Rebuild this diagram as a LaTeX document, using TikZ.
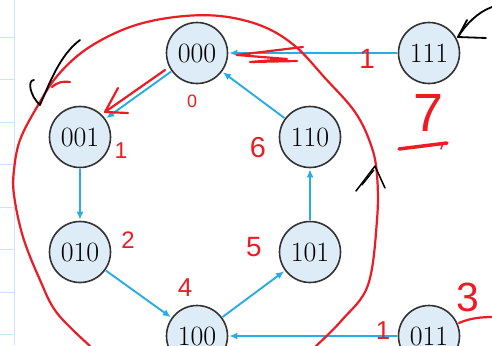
\documentclass[tikz,border=0pt]{standalone}
\usepackage{fontspec}
\newfontfamily\handfont{Liberation Sans}
\usetikzlibrary{arrows.meta}
\definecolor{nodefill}{RGB}{222,236,247}
\definecolor{nodedraw}{RGB}{50,50,50}
\definecolor{arrowblue}{RGB}{41,172,228}
\definecolor{penred}{RGB}{236,28,36}
\definecolor{gridblue}{RGB}{205,228,246}
\tikzset{
  state/.style={circle, minimum size=61bp, inner sep=0pt, fill=nodefill, draw=nodedraw, line width=1.6bp, font=\fontsize{28}{28}\selectfont},
  barrow/.style={draw=arrowblue, line width=1.9bp, -{Latex[length=8bp,width=7bp]}, shorten >=1bp, shorten <=0.5bp},
  redpen/.style={draw=penred, line width=2.2bp, line cap=round, line join=round},
  blackpen/.style={draw=black, line width=1.8bp, line cap=round, line join=round},
  gridline/.style={draw=gridblue, line width=1bp},
  reddigit/.style={text=penred, inner sep=0pt, font=\handfont}
}
\begin{document}
\begin{tikzpicture}[x=1bp, y=-1bp]
\useasboundingbox (0,0) rectangle (492,345);
\clip (0,0) rectangle (492,345);
\fill[white] (0,0) rectangle (492,345);
% notebook grid at left
\draw[gridline] (14,0) -- (14,345);
\foreach \yy in {37,79,122,164,207,249,292,334} {\draw[gridline] (0,\yy) -- (14,\yy);}
% states
\node[state] (n000) at (197,53) {000};
\node[state] (n111) at (429,53) {111};
\node[state] (n001) at (80,137) {001};
\node[state] (n110) at (310,137) {110};
\node[state] (n010) at (80,252) {010};
\node[state] (n101) at (310,252) {101};
\node[state] (n100) at (197,336) {100};
\node[state] (n011) at (429,336) {011};
% blue transitions
\draw[barrow] (n000) -- (n001);
\draw[barrow] (n001) -- (n010);
\draw[barrow] (n010) -- (n100);
\draw[barrow] (n100) -- (n101);
\draw[barrow] (n101) -- (n110);
\draw[barrow] (n110) -- (n000);
\draw[barrow] (n111) -- (n000);
\draw[barrow] (n011) -- (n100);
% red hand-drawn loop
\draw[redpen] plot[smooth, tension=0.6] coordinates {(90,346) (57,313) (40,280) (23,237) (14,195) (14,170) (20,140) (37,107) (58,75) (88,48) (130,27) (175,17) (220,16) (262,26) (295,46) (325,78) (355,112) (371,145) (377,175) (377,220) (368,285) (342,320) (316,346)};
\draw[redpen] (52,87) .. controls (58,82) and (63,81) .. (70,82);
% red arrow 000 -> 001
\draw[redpen] (165,70) -- (105,112);
\draw[redpen] (118,88) -- (105,112) -- (128,113);
% red arrow on 111 -> 000
\draw[redpen] (303,47) -- (237,55) -- (287,59) -- (250,62) -- (297,61);
% red numbers
\node[reddigit, font=\handfont\fontsize{18}{18}\selectfont] (d0) at (192,101) {0};
\node[reddigit, font=\handfont\fontsize{23}{23}\selectfont] (d1) at (121,151) {1};
\node[reddigit, font=\handfont\fontsize{24}{24}\selectfont] (d2) at (128,240) {2};
\node[reddigit, font=\handfont\fontsize{26}{26}\selectfont] (d4) at (185,288) {4};
\node[reddigit, font=\handfont\fontsize{28}{28}\selectfont] (d5) at (254,247) {5};
\node[reddigit, font=\handfont\fontsize{29}{29}\selectfont] (d6) at (258,148) {6};
\node[reddigit, font=\handfont\fontsize{54}{54}\selectfont] (d7) at (428,113) {7};
\node[reddigit, font=\handfont\fontsize{41}{41}\selectfont] (d3) at (468,297) {3};
\node[reddigit, font=\handfont\fontsize{28}{28}\selectfont] (e1) at (367,59) {1};
\node[reddigit, font=\handfont\fontsize{26}{26}\selectfont] (e2) at (383,331) {1};
% red dash and stroke at 011
\draw[redpen, line width=3.5bp] (399,149) -- (447,143);
\draw[redpen, line width=1.5bp] (443,143) -- (441,149);
\draw[redpen] (459,323) .. controls (470,318) and (482,317) .. (493,317);
% black checkmark
\draw[blackpen] (34,80) .. controls (27,80) and (30,96) .. (40,105) .. controls (50,82) and (60,55) .. (80,40);
% black arrow at 111
\draw[blackpen] (492,7) .. controls (478,12) and (466,24) .. (458,37);
\draw[blackpen] (467,20) -- (458,37) -- (486,38);
% black caret on loop
\draw[blackpen, line width=1.5bp] (356,191) -- (375,166) -- (385,188);
\draw[blackpen, line width=1.2bp] (362,185) -- (374,170);
\end{tikzpicture}
\end{document}
